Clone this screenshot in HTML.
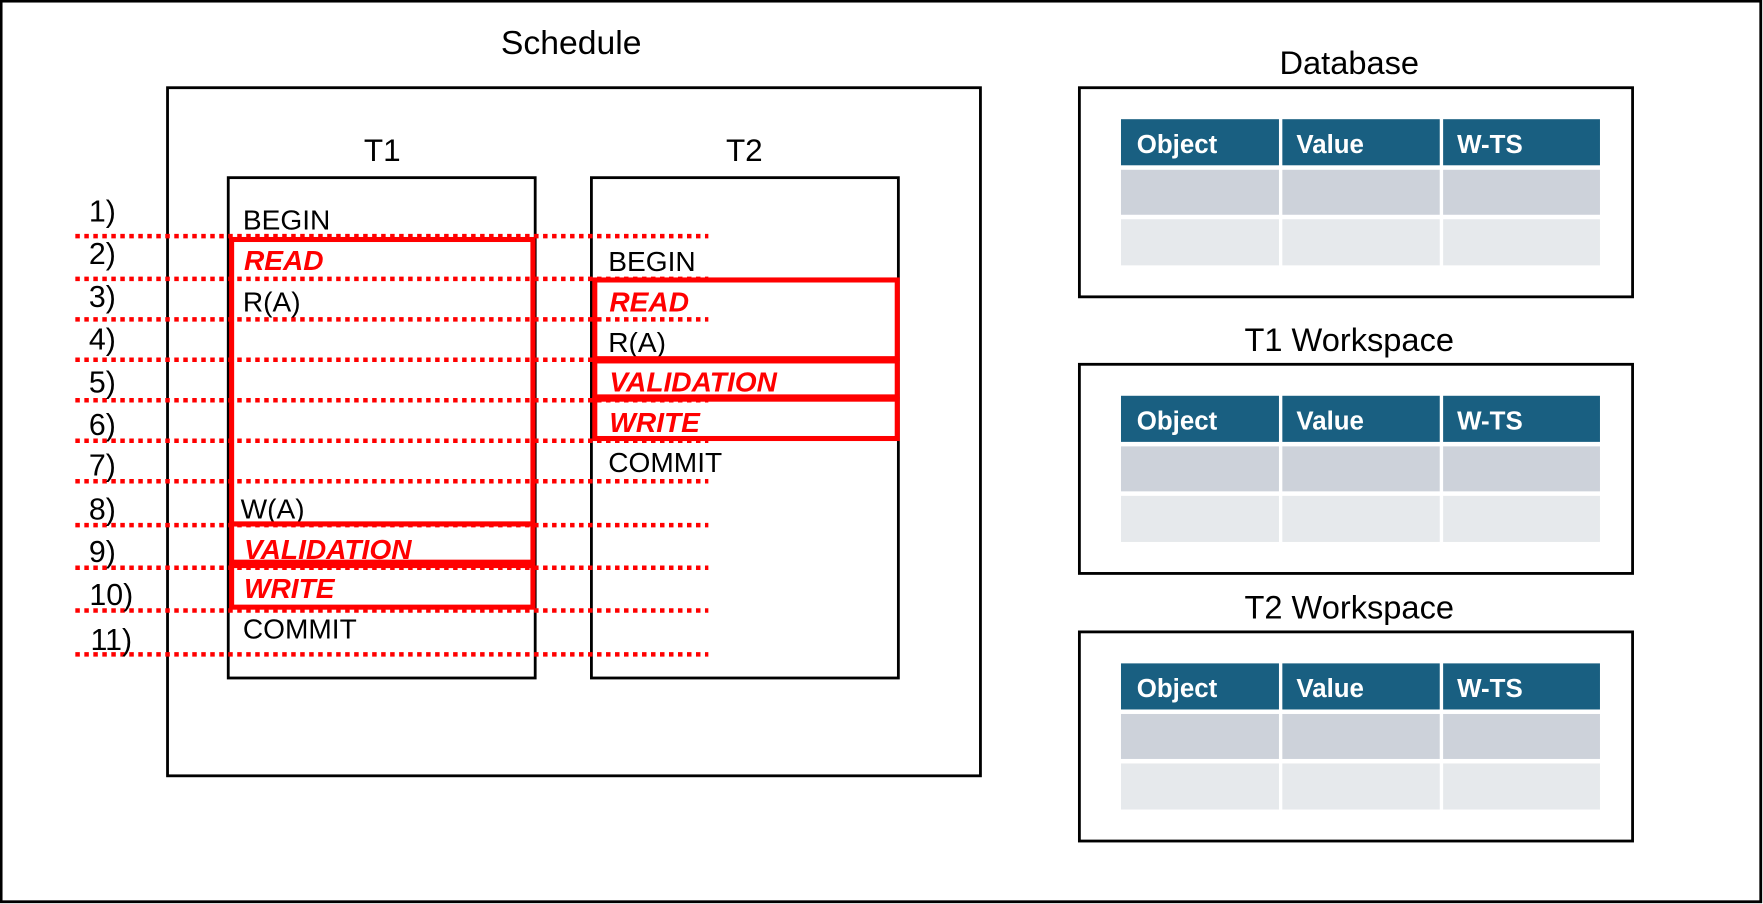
<!DOCTYPE html>
<html><head><meta charset="utf-8"><style>
html,body{margin:0;padding:0;background:#fff}
svg{display:block}
text{font-family:"Liberation Sans",sans-serif}
</style></head><body>
<svg width="1763" height="904" viewBox="0 0 1568 804">
<rect x="1" y="1" width="1565" height="801" fill="#fff" stroke="#000" stroke-width="2.5"/>
<text x="508" y="48" font-size="30" text-anchor="middle">Schedule</text>
<rect x="149" y="78" width="723" height="612" fill="none" stroke="#000" stroke-width="2.5"/>
<text x="340" y="143" font-size="28" text-anchor="middle">T1</text>
<text x="662" y="143" font-size="28" text-anchor="middle">T2</text>
<rect x="203" y="158" width="273" height="445" fill="none" stroke="#000" stroke-width="2.5"/>
<rect x="526" y="158" width="273" height="445" fill="none" stroke="#000" stroke-width="2.5"/>
<g id="rows"></g>
<g font-size="25">
<text x="216" y="204">BEGIN</text>
<text x="217" y="240" fill="#f00" font-weight="bold" font-style="italic">READ</text>
<text x="216" y="277">R(A)</text>
<text x="214" y="461">W(A)</text>
<text x="217" y="497" fill="#f00" font-weight="bold" font-style="italic">VALIDATION</text>
<text x="217" y="532" fill="#f00" font-weight="bold" font-style="italic">WRITE</text>
<text x="216" y="568">COMMIT</text>
<text x="541" y="241">BEGIN</text>
<text x="542" y="277" fill="#f00" font-weight="bold" font-style="italic">READ</text>
<text x="541" y="313">R(A)</text>
<text x="542" y="348" fill="#f00" font-weight="bold" font-style="italic">VALIDATION</text>
<text x="542" y="384" fill="#f00" font-weight="bold" font-style="italic">WRITE</text>
<text x="541" y="420">COMMIT</text>
</g>
<g fill="none" stroke="#f00" stroke-width="4.5">
<rect x="206" y="213" width="268" height="253"/>
<rect x="206" y="466" width="268" height="34"/>
<rect x="206" y="503" width="268" height="37"/>
<rect x="529" y="249" width="269" height="70"/>
<rect x="529" y="321" width="269" height="32"/>
<rect x="529" y="355" width="269" height="35"/>
</g>
<g id="panels"></g>
</svg>
<script>
const NS="http://www.w3.org/2000/svg";
const lineYs=[210,248,284,320,356,392,428,467,505,543,582];
const labels=["1)","2)","3)","4)","5)","6)","7)","8)","9)","10)","11)"];
const labelYs=[197,235,273,311,349,387,423,462,500,538,578];
const rows=document.getElementById('rows');
lineYs.forEach((y,i)=>{
 const l=document.createElementNS(NS,'line');
 l.setAttribute('x1',67);l.setAttribute('x2',630);l.setAttribute('y1',y);l.setAttribute('y2',y);
 l.setAttribute('stroke','#f00');l.setAttribute('stroke-width','4');l.setAttribute('stroke-dasharray','4 4');
 
 
 rows.appendChild(l);
});
labels.forEach((t,i)=>{
 const e=document.createElementNS(NS,'text');
 e.setAttribute('x',i>=9?99:91);e.setAttribute('y',labelYs[i]);e.setAttribute('font-size','27');e.setAttribute('text-anchor','middle');
 e.textContent=t;
 
 
 rows.appendChild(e);
});
const panelTitles=["Database","T1 Workspace","T2 Workspace"];
const panelTops=[78,324,562];
const headers=["Object","Value","W-TS"];
const colX=[997,1139,1282,1423];
const panels=document.getElementById('panels');
panelTops.forEach((top,p)=>{
 const t=document.createElementNS(NS,'text');
 t.setAttribute('x',1200);t.setAttribute('y',top-12);t.setAttribute('font-size','29');t.setAttribute('text-anchor','middle');
 t.textContent=panelTitles[p];
 
 
 panels.appendChild(t);
 const b=document.createElementNS(NS,'rect');
 b.setAttribute('x',960);b.setAttribute('y',top);b.setAttribute('width',492);b.setAttribute('height',186);
 b.setAttribute('fill','none');b.setAttribute('stroke','#000');b.setAttribute('stroke-width','2.5');
 
 
 panels.appendChild(b);
 const rowY=[top+28,top+73,top+117];const rowH=[41,40,41];const fills=['#195f81','#cdd2da','#e6e9ec'];
 for(let r=0;r<3;r++)for(let c=0;c<3;c++){
  const cell=document.createElementNS(NS,'rect');
  cell.setAttribute('x',colX[c]+(c?1.5:0));cell.setAttribute('y',rowY[r]);
  cell.setAttribute('width',colX[c+1]-colX[c]-(c?1.5:0)-(c<2?1.5:0));cell.setAttribute('height',rowH[r]);
  cell.setAttribute('fill',fills[r]);
  
  
  panels.appendChild(cell);
  if(r==0){
   const h=document.createElementNS(NS,'text');
   h.setAttribute('x',colX[c]+14);h.setAttribute('y',rowY[0]+30);h.setAttribute('font-size','23');
   h.setAttribute('font-weight','bold');h.setAttribute('fill','#fff');h.textContent=headers[c];
   
   
   panels.appendChild(h);
  }
 }
});
</script>
</body></html>
